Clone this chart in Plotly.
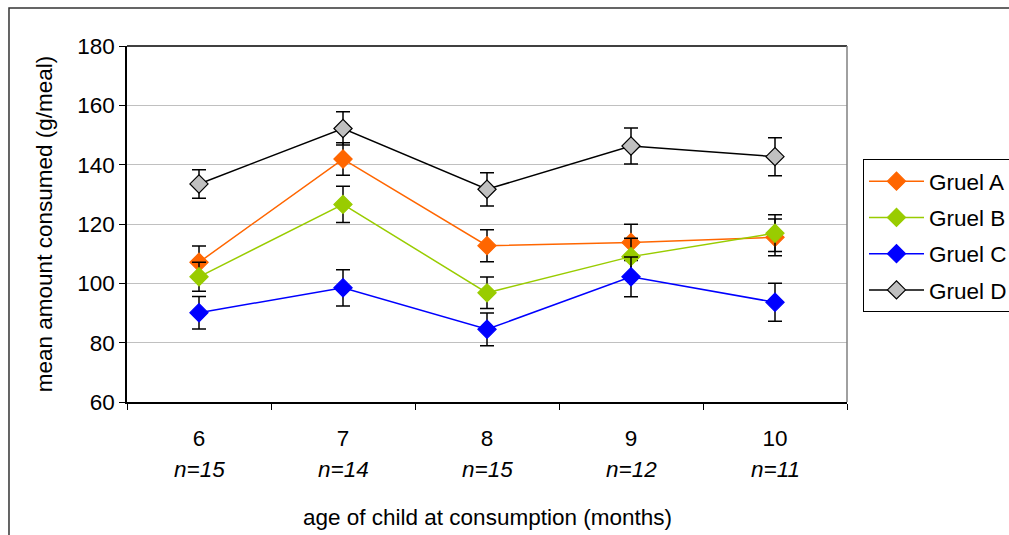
import plotly.graph_objects as go

# Age of child (months) and number of children per age group
ages = [6, 7, 8, 9, 10]
n_children = [15, 14, 15, 12, 11]

# Mean amount consumed (g/meal) per gruel, with error bar half-widths
gruel_a = [107.1, 141.9, 112.7, 113.8, 115.5]
gruel_a_err = [5.5, 5.5, 5.4, 6.1, 6.2]
gruel_b = [102.2, 126.6, 96.8, 109.0, 116.9]
gruel_b_err = [4.9, 6.1, 5.3, 6.2, 6.2]
gruel_c = [90.1, 98.5, 84.5, 102.2, 93.6]
gruel_c_err = [5.5, 6.1, 5.5, 6.7, 6.4]
gruel_d = [133.5, 152.2, 131.7, 146.3, 142.7]
gruel_d_err = [4.8, 5.6, 5.6, 6.1, 6.4]

y_ticks = [60, 80, 100, 120, 140, 160, 180]

FONT = "Liberation Sans, Arial, sans-serif"
FS = 22.5

series = [
    ("Gruel A", gruel_a, gruel_a_err, "#FF6600", "#FF6600", "#FF6600"),
    ("Gruel B", gruel_b, gruel_b_err, "#99CC00", "#99CC00", "#99CC00"),
    ("Gruel C", gruel_c, gruel_c_err, "#0000FF", "#0000FF", "#0000FF"),
    ("Gruel D", gruel_d, gruel_d_err, "#000000", "#C0C0C0", "#000000"),
]

fig = go.Figure()
for name, vals, errs, line_col, fill_col, edge_col in series:
    fig.add_trace(go.Scatter(
        x=ages, y=vals, name=name, legendgroup=name, mode="lines+markers",
        line=dict(color=line_col, width=1.5),
        marker=dict(symbol="diamond", size=14, color=fill_col,
                    line=dict(color=edge_col, width=1.2)),
        error_y=dict(type="data", array=errs, visible=True,
                     color="black", thickness=1.5, width=7),
        xaxis="x", yaxis="y",
    ))

# month labels on an overlaid axis centred on each category
fig.add_trace(go.Scatter(x=[ages[0]], y=[y_ticks[0]], xaxis="x2", yaxis="y",
                         mode="markers", marker=dict(opacity=0),
                         showlegend=False, hoverinfo="skip"))

# sample sizes beneath the month labels
for a, n in zip(ages, n_children):
    fig.add_annotation(x=a, y=0, xref="x", yref="paper",
                       text=f"<i>n={n}</i>", showarrow=False,
                       yanchor="middle", yshift=-67,
                       font=dict(family=FONT, size=FS, color="black"))

fig.add_annotation(x=0.5, y=0, xref="paper", yref="paper",
                   text="age of child at consumption (months)",
                   showarrow=False, yanchor="middle", yshift=-115,
                   font=dict(family=FONT, size=FS, color="black"))

fig.update_layout(
    width=1009, height=535,
    margin=dict(l=127, r=162, t=46, b=133),
    paper_bgcolor="white", plot_bgcolor="white",
    font=dict(family=FONT, size=FS, color="black"),
    showlegend=True,
    legend=dict(
        xref="container", yref="container",
        x=0.8553, y=0.7028, xanchor="left", yanchor="top",
        bordercolor="black", borderwidth=1,
        font=dict(family=FONT, size=FS, color="black"),
        tracegroupgap=4, traceorder="grouped",
        itemwidth=55,
    ),
    xaxis=dict(
        range=[5.5, 10.5],
        tickmode="array",
        tickvals=[5.5, 6.5, 7.5, 8.5, 9.5, 10.5],
        showticklabels=False,
        ticks="outside", ticklen=6, tickcolor="black", tickwidth=1,
        showline=True, linecolor="black", linewidth=1.5,
        showgrid=False, zeroline=False,
    ),
    xaxis2=dict(
        overlaying="x", matches="x", side="bottom",
        tickmode="array", tickvals=ages, ticktext=[str(a) for a in ages],
        ticks="", showline=False, showgrid=False, zeroline=False,
        ticklabelstandoff=20,
        tickfont=dict(family=FONT, size=FS, color="black"),
    ),
    yaxis=dict(
        range=[60, 180],
        tickmode="array", tickvals=y_ticks,
        ticks="outside", ticklen=6, tickcolor="black", tickwidth=1,
        showline=True, linecolor="black", linewidth=1.5,
        gridcolor="#C0C0C0", gridwidth=1, zeroline=False,
        tickfont=dict(family=FONT, size=FS, color="black"),
        title=dict(text="mean amount consumed (g/meal)", standoff=18,
                   font=dict(family=FONT, size=FS, color="black")),
    ),
)

# plot-area frame: black top edge, grey right edge
fig.add_shape(type="line", xref="paper", yref="paper", x0=0, x1=1, y0=1, y1=1,
              line=dict(color="black", width=1.5))
fig.add_shape(type="line", xref="paper", yref="paper", x0=1, x1=1, y0=0, y1=1,
              line=dict(color="#808080", width=1.5))
# outer chart border
fig.add_shape(type="rect", xref="paper", yref="paper",
              x0=-0.1639, x1=1.3, y0=-0.4, y1=1.1067,
              line=dict(color="#333333", width=1.5), layer="below")

fig.write_html("out.html")
